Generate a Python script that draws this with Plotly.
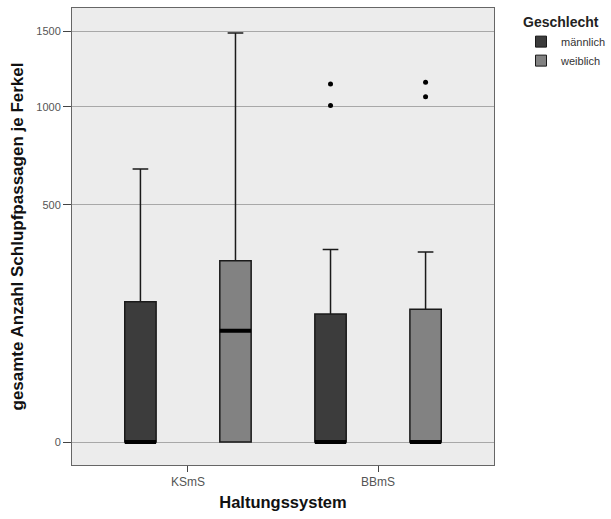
import numpy as np
import plotly.graph_objects as go

categories = ["KSmS", "BBmS"]
groups = ["männlich", "weiblich"]
group_colors = ["#3c3c3c", "#828282"]

# box statistics per group: [KSmS, BBmS]
q1 = {"männlich": [0, 0], "weiblich": [0, 0]}
median = {"männlich": [0, 0], "weiblich": [110, 0]}
q3 = {"männlich": [175, 146], "weiblich": [292, 157]}
lowerfence = {"männlich": [0, 0], "weiblich": [0, 0]}
upperfence = {"männlich": [663, 330], "weiblich": [1489, 321]}
outliers = {"männlich": [[], [1141, 1007]], "weiblich": [[], [1151, 1061]]}

y_ticks = [0, 500, 1000, 1500]

tr = np.sqrt  # square-root scale of the original axis
offsets = {"männlich": -0.25, "weiblich": 0.25}
box_w = 0.165

fig = go.Figure()
for g, col in zip(groups, group_colors):
    xs = [i + offsets[g] for i in range(len(categories))]
    fig.add_trace(go.Box(
        x=xs, q1=tr(q1[g]), median=tr(median[g]), q3=tr(q3[g]),
        lowerfence=tr(lowerfence[g]), upperfence=tr(upperfence[g]),
        width=box_w, whiskerwidth=0.5, fillcolor=col,
        line=dict(color="#1a1a1a", width=1.5), showlegend=False, hoverinfo="skip"))
    # thick median bar
    fig.add_trace(go.Box(
        x=xs, q1=tr(median[g]), median=tr(median[g]), q3=tr(median[g]),
        lowerfence=tr(median[g]), upperfence=tr(median[g]),
        width=box_w, whiskerwidth=0, fillcolor="rgba(0,0,0,0)",
        line=dict(color="#000000", width=4), showlegend=False, hoverinfo="skip"))
    ox, oy = [], []
    for i, vals in enumerate(outliers[g]):
        for v in vals:
            ox.append(i + offsets[g]); oy.append(tr(v))
    fig.add_trace(go.Scatter(x=ox, y=oy, mode="markers",
                             marker=dict(color="#000", size=5), showlegend=False))
    fig.add_trace(go.Scatter(x=[None], y=[None], mode="markers", name=g,
                             marker=dict(symbol="square", size=11, color=col,
                                         line=dict(color="#1a1a1a", width=1))))

fig.update_layout(
    width=611, height=519,
    margin=dict(l=72, r=117, t=8, b=54, autoexpand=False),
    paper_bgcolor="white", plot_bgcolor="#ececec",
    font=dict(family="Liberation Sans, Arial, sans-serif", color="#222"),
    boxmode="overlay",
    legend=dict(x=1.064, y=0.998, xanchor="left", yanchor="top",
                title=dict(text="<b>Geschlecht</b>", font=dict(size=14, color="#222")),
                font=dict(size=11, color="#333"), itemwidth=30,
                tracegroupgap=0, bgcolor="rgba(0,0,0,0)"),
)
fig.update_xaxes(
    range=[-0.61, 1.61], tickvals=list(range(len(categories))), ticktext=categories,
    showgrid=False, zeroline=False, ticks="outside", ticklen=6, tickcolor="#444",
    tickfont=dict(size=12, color="#555"),
    showline=True, mirror=True, linecolor="#666", linewidth=1,
    title=dict(text="<b>Haltungssystem</b>", font=dict(size=16.5, color="#111"), standoff=8))
fig.update_yaxes(
    range=[-2.17, 40.94], tickvals=tr(y_ticks), ticktext=[str(t) for t in y_ticks],
    showgrid=True, gridcolor="#a8a8a8", gridwidth=1, zeroline=False,
    ticks="outside", ticklen=8, tickcolor="#444",
    tickfont=dict(size=11, color="#555"),
    showline=True, mirror=True, linecolor="#666", linewidth=1,
    title=dict(text="<b>gesamte Anzahl Schlupfpassagen je Ferkel</b>",
               font=dict(size=17, color="#111"), standoff=8))

fig.write_html("out.html")
